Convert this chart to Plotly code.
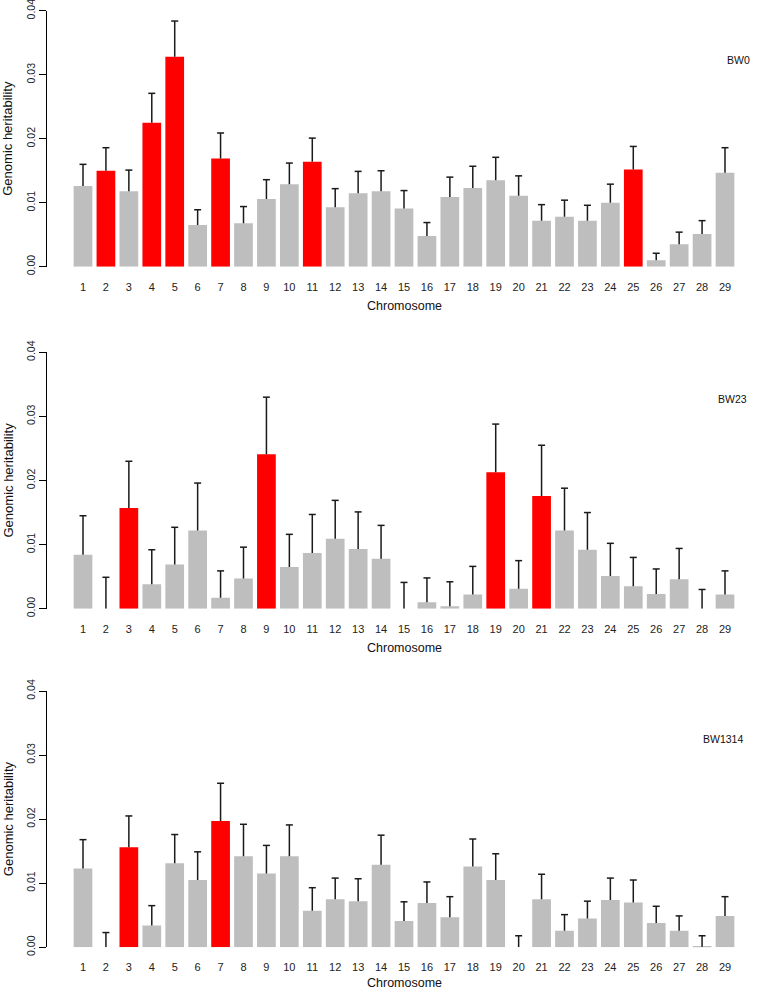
import plotly.graph_objects as go

chromosomes = list(range(1, 30))
tick_labels = [str(c) for c in chromosomes]

bw0_h2 = [0.0126, 0.0150, 0.0118, 0.0225, 0.0328, 0.0065, 0.0169, 0.0068, 0.0106, 0.0129,
          0.0164, 0.0093, 0.0115, 0.0118, 0.0091, 0.0048, 0.0109, 0.0123, 0.0135, 0.0111,
          0.0072, 0.0078, 0.0072, 0.0100, 0.0152, 0.0010, 0.0035, 0.0051, 0.0147]
bw0_se = [0.0034, 0.0036, 0.0033, 0.0046, 0.0056, 0.0024, 0.0040, 0.0026, 0.0030, 0.0033,
          0.0037, 0.0029, 0.0034, 0.0032, 0.0028, 0.0021, 0.0031, 0.0034, 0.0036, 0.0031,
          0.0025, 0.0026, 0.0024, 0.0029, 0.0036, 0.0011, 0.0019, 0.0021, 0.0039]
bw0_sig = [2, 4, 5, 7, 11, 25]

bw23_h2 = [0.0084, 0.0, 0.0157, 0.0038, 0.0069, 0.0122, 0.0017, 0.0047, 0.0241, 0.0065,
           0.0087, 0.0109, 0.0093, 0.0078, 0.0, 0.0010, 0.0004, 0.0022, 0.0213, 0.0031,
           0.0176, 0.0122, 0.0092, 0.0051, 0.0035, 0.0023, 0.0046, 0.0, 0.0022]
bw23_se = [0.0061, 0.0049, 0.0073, 0.0054, 0.0058, 0.0074, 0.0042, 0.0049, 0.0089, 0.0051,
           0.0060, 0.0060, 0.0058, 0.0052, 0.0041, 0.0038, 0.0038, 0.0044, 0.0075, 0.0044,
           0.0079, 0.0066, 0.0058, 0.0051, 0.0045, 0.0039, 0.0048, 0.0030, 0.0037]
bw23_sig = [3, 9, 19, 21]

bw1314_h2 = [0.0123, 0.0, 0.0156, 0.0034, 0.0131, 0.0105, 0.0197, 0.0142, 0.0115, 0.0142,
             0.0057, 0.0075, 0.0072, 0.0129, 0.0041, 0.0069, 0.0047, 0.0126, 0.0105, 0.0,
             0.0075, 0.0026, 0.0045, 0.0074, 0.0070, 0.0038, 0.0026, 0.0001, 0.0049]
bw1314_se = [0.0045, 0.0023, 0.0049, 0.0031, 0.0045, 0.0044, 0.0059, 0.0050, 0.0044, 0.0049,
             0.0036, 0.0033, 0.0035, 0.0046, 0.0030, 0.0033, 0.0032, 0.0043, 0.0041, 0.0018,
             0.0039, 0.0025, 0.0027, 0.0034, 0.0035, 0.0026, 0.0023, 0.0017, 0.0030]
bw1314_sig = [3, 7]

panel_names = ["BW0", "BW23", "BW1314"]
y_ticks = [0.0, 0.01, 0.02, 0.03, 0.04]

GRAY = "#BEBEBE"
RED = "#FF0000"
ERR = "#1a1a1a"
FONT = "Liberation Sans, Arial, sans-serif"
W, H = 762, 992
ML, MR = 47, 1

# pixel positions (top of axis at 0.04, bottom at 0) for each panel
panel_px = [(10.8, 266.7), (352.3, 608.7), (691.0, 947.3)]
label_px = [(738, 59.7), (732.7, 399), (723.3, 739)]

fig = go.Figure()
series = [(bw0_h2, bw0_se, bw0_sig), (bw23_h2, bw23_se, bw23_sig), (bw1314_h2, bw1314_se, bw1314_sig)]

for i, (vals, se, sig) in enumerate(series):
    ax = "" if i == 0 else str(i + 1)
    colors = [RED if c in sig else GRAY for c in chromosomes]
    fig.add_trace(go.Bar(
        x=chromosomes, y=vals,
        marker=dict(color=colors, line=dict(width=0)),
        error_y=dict(type="data", symmetric=False, array=se, arrayminus=[0] * len(se),
                     color=ERR, thickness=1.5, width=0),
        xaxis="x" + ax, yaxis="y" + ax, showlegend=False,
    ))
    upper = [v + s for v, s in zip(vals, se)]
    fig.add_trace(go.Scatter(
        x=chromosomes, y=upper, mode="markers",
        marker=dict(symbol="line-ew", size=5, line=dict(color=ERR, width=1.5)),
        xaxis="x" + ax, yaxis="y" + ax, showlegend=False, hoverinfo="skip",
        cliponaxis=False,
    ))
    top, bot = panel_px[i]
    dom = [1 - bot / H, 1 - top / H]
    fig.layout["xaxis" + ax] = dict(
        domain=[0, 1], range=[-0.57, 30.57], anchor="y" + ax,
        tickmode="array", tickvals=chromosomes, ticktext=tick_labels,
        showline=False, zeroline=False, showgrid=False, ticks="",
        ticklabelstandoff=12, tickfont=dict(family=FONT, size=11, color="#222"),
        automargin=False,
    )
    fig.layout["yaxis" + ax] = dict(
        domain=dom, range=[0, 0.04], anchor="x" + ax,
        tickmode="array", tickvals=y_ticks, ticktext=[f"{v:.2f}" for v in y_ticks],
        tickangle=-90, showline=True, linecolor="#000", linewidth=1,
        ticks="outside", ticklen=7, tickwidth=1, tickcolor="#000",
        showgrid=False, zeroline=False, ticklabeloverflow="allow",
        tickfont=dict(family=FONT, size=10.5, color="#222"), automargin=False,
    )
    # y title
    fig.add_annotation(
        text="Genomic heritability", textangle=-90, showarrow=False,
        xref="paper", yref="paper", x=(8 - ML) / (W - ML - MR), y=(dom[0] + dom[1]) / 2,
        xanchor="center", yanchor="middle",
        font=dict(family=FONT, size=13, color="#111"),
    )
    # x title
    if i < 2:
        fig.add_annotation(
            text="Chromosome", showarrow=False,
            xref="paper", yref="paper", x=0.5, y=1 - (bot + 39) / H,
            xanchor="center", yanchor="middle",
            font=dict(family=FONT, size=12.5, color="#111"),
        )
    else:
        fig.add_annotation(
            text="Chromosome", showarrow=False,
            xref="paper", yref="paper", x=0.5, y=0,
            xanchor="center", yanchor="bottom",
            font=dict(family=FONT, size=12.5, color="#111"),
        )
    lx, ly = label_px[i]
    fig.add_annotation(
        text=panel_names[i], showarrow=False,
        xref="paper", yref="paper", x=(lx - ML) / (W - ML - MR), y=1 - ly / H,
        xanchor="center", yanchor="middle",
        font=dict(family=FONT, size=10.5, color="#111"),
    )

fig.update_layout(
    width=W, height=H, margin=dict(l=ML, r=MR, t=0, b=0),
    plot_bgcolor="white", paper_bgcolor="white",
    bargap=0.184, showlegend=False,
)

fig.write_html("out.html", config={"displayModeBar": False},
               post_script="document.body.style.margin='0';document.body.style.overflow='hidden';")
